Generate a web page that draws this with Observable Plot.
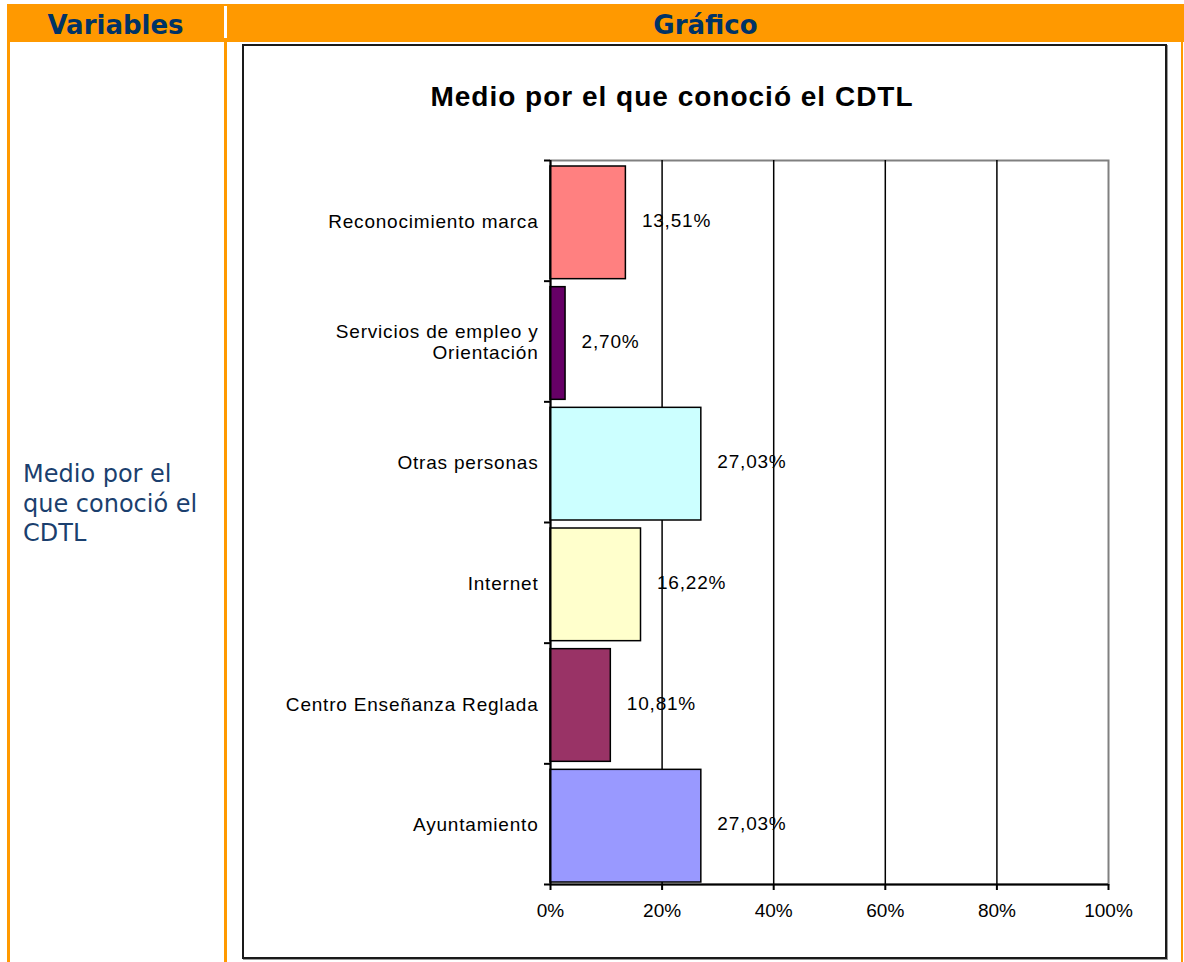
<!DOCTYPE html>
<html>
<head>
<meta charset="utf-8">
<script src="https://cdn.jsdelivr.net/npm/d3@7"></script>
<script src="https://cdn.jsdelivr.net/npm/@observablehq/plot@0.6"></script>
<style>
  html, body { margin: 0; padding: 0; background: #fff; }
  #page { position: relative; width: 1184px; height: 962px; overflow: hidden; }
  .abs { position: absolute; }
  .hdr { font-family: "DejaVu Sans", Verdana, sans-serif; font-weight: bold; font-size: 26px; color: #003366; text-align: center; line-height: 38px; top: 6px; height: 38px; }
  #left { left: 23px; top: 460px; font-family: "DejaVu Sans", Verdana, sans-serif; font-size: 24px; line-height: 29.5px; color: #1b3f6e; }
  #box { left: 242px; top: 44px; width: 925px; height: 915px; box-sizing: border-box; border: 2px solid #1a1a1a; box-shadow: 1px 1px 0 #9a9a9a; }
  #title { left: 372px; width: 600px; top: 83px; text-align: center; font-family: "Liberation Sans", Arial, sans-serif; font-weight: bold; font-size: 28px; line-height: 28px; letter-spacing: 1px; color: #000; }
  #chart { left: 242px; top: 44px; }
  .lbl text { letter-spacing: 0.8px; }
</style>
</head>
<body>
<div id="page">
  <div class="abs" style="left:7px;top:4px;width:1177px;height:38px;background:#FF9900;"></div>
  <div class="abs" style="left:224px;top:6px;width:3px;height:32px;background:#fff;"></div>
  <div class="abs" style="left:7px;top:42px;width:3px;height:920px;background:#FF9900;"></div>
  <div class="abs" style="left:224px;top:42px;width:3px;height:920px;background:#FF9900;"></div>
  <div class="abs" style="left:1181px;top:42px;width:2px;height:920px;background:#FF9900;"></div>
  <div class="abs hdr" style="left:7px;width:217px;">Variables</div>
  <div class="abs hdr" style="left:227px;width:957px;">Gráfico</div>
  <div class="abs" id="left">Medio por el<br>que conoció el<br>CDTL</div>
  <div class="abs" id="box"></div>
  <div class="abs" id="title">Medio por el que conoció el CDTL</div>
  <div class="abs" id="chart"></div>
</div>
<script>
const categories = [
  "Reconocimiento marca",
  "Servicios de empleo y\nOrientación",
  "Otras personas",
  "Internet",
  "Centro Enseñanza Reglada",
  "Ayuntamiento"
];
const values = [13.51, 2.70, 27.03, 16.22, 10.81, 27.03];
const colors = ["#FF8080", "#660066", "#CCFFFF", "#FFFFCC", "#993366", "#9999FF"];
const xTicks = [0, 20, 40, 60, 80, 100];
const gridTicks = [20, 40, 60, 80];

const data = categories.map((c, i) => ({ cat: c, i, value: values[i], color: colors[i] }));
const fmt = v => v.toFixed(2).replace(".", ",") + "%";
const boundaries = d3.range(categories.length + 1);

const plot = Plot.plot({
  width: 925,
  height: 915,
  marginLeft: 308,
  marginRight: 59,
  marginTop: 116,
  marginBottom: 75,
  style: { fontFamily: "'Liberation Sans', Arial, sans-serif", fontSize: "19px", background: "transparent", overflow: "visible" },
  x: { domain: [0, 100] },
  y: { domain: [0, categories.length], reverse: true },
  marks: [
    Plot.frame({ stroke: "#808080", strokeWidth: 2 }),
    Plot.ruleX(gridTicks, { stroke: "#000", strokeWidth: 1.5 }),
    Plot.rectX(data, {
      x1: 0, x2: "value", y1: "i", y2: d => d.i + 1,
      fill: d => d.color, stroke: "#000", strokeWidth: 1.5,
      insetTop: 6, insetBottom: 2
    }),
    Plot.text(data, {
      x: "value", y: d => d.i + 0.5, text: d => fmt(d.value),
      dx: 16, textAnchor: "start", fontSize: 19, fill: "#000",
      className: "lbl"
    }),
    Plot.text(data, {
      x: 0, y: d => d.i + 0.5, text: "cat",
      dx: -12, textAnchor: "end", fontSize: 19, lineHeight: 1.15, fill: "#000",
      className: "lbl"
    }),
    Plot.axisY({ ticks: boundaries, tickSize: 6, tickFormat: () => "", strokeWidth: 2, label: null }),
    Plot.axisX({ ticks: xTicks, tickSize: 6, tickPadding: 13, tickFormat: d => d + "%", fontSize: 19, strokeWidth: 2, label: null }),
    Plot.ruleX([0], { stroke: "#000", strokeWidth: 2 }),
    Plot.ruleY([categories.length], { stroke: "#000", strokeWidth: 2 })
  ]
});
document.getElementById("chart").appendChild(plot);
</script>
</body>
</html>
